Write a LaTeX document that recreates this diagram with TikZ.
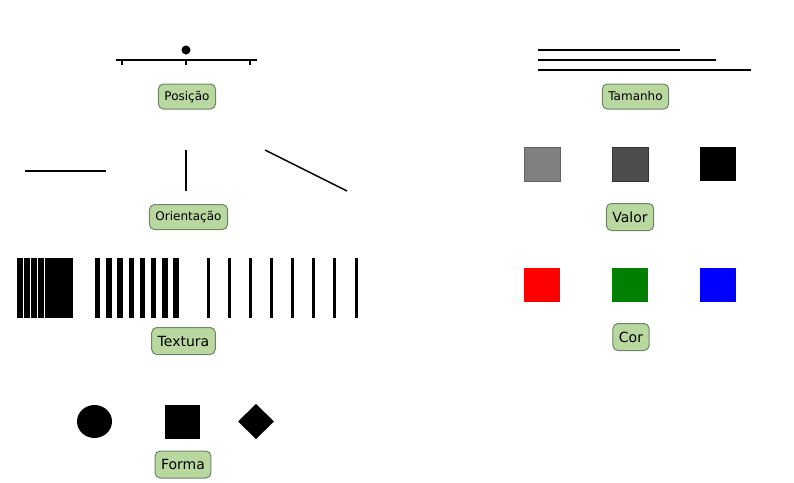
\documentclass[tikz,border=0pt]{standalone}
\usepackage{fontspec}
\setsansfont{DejaVu Sans}
\usetikzlibrary{shapes.geometric}
\definecolor{tagfill}{HTML}{B8D8A0}
\definecolor{tagline}{HTML}{6E8466}
\definecolor{midgray}{HTML}{808080}
\definecolor{darkgray}{HTML}{4D4D4D}
\definecolor{darkgreen}{HTML}{008000}

\begin{document}
\begin{tikzpicture} [x=1pt,y=-1pt,line width=1.5pt,
  tag/.style={draw=tagline,fill=tagfill,rounded corners=5pt,line width=1pt,
    font=\sffamily\fontsize{12}{14}\selectfont,minimum height=25pt,inner xsep=6pt},
  bigtag/.style={tag,font=\sffamily\fontsize{14}{16}\selectfont,minimum height=27pt},
  swatch/.style={minimum width=36pt,minimum height=34pt,inner sep=0pt,line width=1pt}]

  \useasboundingbox (0,0) rectangle (794,482);

  \draw (116,60) -- (257,60);
  \foreach \x in {122,186,250}
    \draw (\x,60) -- (\x,65);
  \fill (186,50) circle (4.5);
  \node[tag] (pos) at (187,96.5) {Posição};

  \draw (25,171) -- (106,171);
  \draw (186,150) -- (186,191);
  \draw (265,150) -- (347,191);
  \node[tag] (ori) at (188.5,217) {Orientação};

  \foreach \i/\w in {0/5.7,1/5.7,2/5.7,3/5.7,4/7.2,5/7.2,6/7.2,7/7.2}
    \fill ({17+7*\i},258) rectangle +(\w,60);
  \foreach \i in {0,...,7}
    \fill ({95+11.2*\i},258) rectangle +(5.3,60);
  \foreach \i in {0,...,7}
    \fill ({206.8+21.1*\i},258) rectangle +(3,60);
  \node[bigtag] (tex) at (183.5,341) {Textura};

  \fill (94.5,421.5) ellipse (17.5 and 16.5);
  \fill (165,405) rectangle (200,439);
  \fill (238,421.5) -- (256,404) -- (274,421.5) -- (256,439) -- cycle;
  \node[bigtag] (for) at (183,464.5) {Forma};

  \draw (538,50) -- (680,50);
  \draw (538,60) -- (716,60);
  \draw (538,70) -- (751,70);
  \node[tag] (tam) at (635.5,96.5) {Tamanho};

  \node[swatch,fill=midgray,draw=black!62] (v1) at (542,164) {};
  \node[swatch,fill=darkgray,draw=black!80] (v2) at (630,164) {};
  \node[swatch,fill=black] (v3) at (718,164) {};
  \node[bigtag] (val) at (630,217) {Valor};

  \node[swatch,fill=red] (c1) at (542,284.5) {};
  \node[swatch,fill=darkgreen] (c2) at (630,284.5) {};
  \node[swatch,fill=blue] (c3) at (718,284.5) {};
  \node[bigtag] (cor) at (631,337) {Cor};

\end{tikzpicture}
\end{document}
